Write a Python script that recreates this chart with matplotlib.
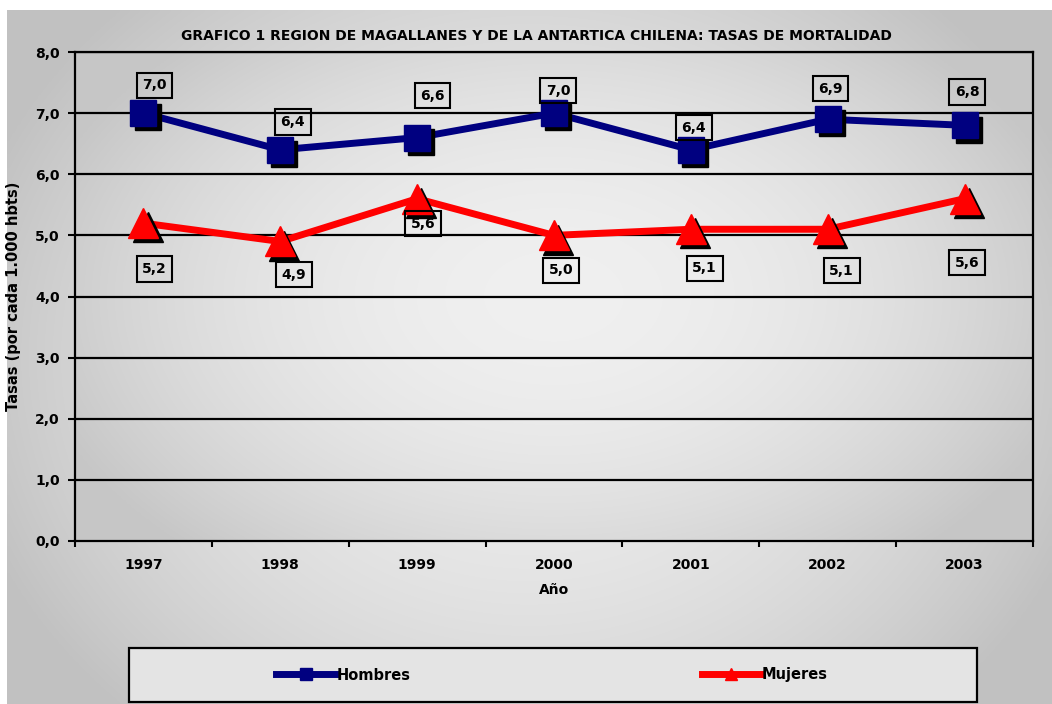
import matplotlib.pyplot as plt
import numpy as np
from matplotlib.patches import Rectangle
import matplotlib.transforms as mtransforms

# data
years = ['1997', '1998', '1999', '2000', '2001', '2002', '2003']
hombres = [7.0, 6.4, 6.6, 7.0, 6.4, 6.9, 6.8]
mujeres = [5.2, 4.9, 5.6, 5.0, 5.1, 5.1, 5.6]
y_ticks = [0, 1, 2, 3, 4, 5, 6, 7, 8]

# label offsets in points (layout only)
h_off = [(8, 20), (9, 20), (11, 30), (3, 16), (2, 16), (2, 22), (2, 24)]
m_off = [(8, -33), (10, -24), (4, -18), (5, -25), (10, -28), (10, -30), (2, -46)]

plt.rcParams['font.family'] = ['DejaVu Sans']
plt.rcParams['font.weight'] = 'bold'

fig = plt.figure(figsize=(10.52, 7.04), dpi=100)
fig.patch.set_facecolor('white')


def gradient(nx=200, ny=200, lo=0.76, hi=0.93):
    xx = np.linspace(-1, 1, nx)
    yy = np.linspace(-1, 1, ny)
    X, Y = np.meshgrid(xx, yy)
    r = np.clip(0.8 * X ** 2 + 0.5 * Y ** 2, 0, 1)
    v = hi - (hi - lo) * r
    return np.dstack([v, v, v])


# figure background (gray, leaving thin white strip top/left)
bg = fig.add_axes([7 / 1052, 0, 1 - 7 / 1052, 1 - 10 / 704], zorder=-10)
bg.imshow(gradient(), aspect='auto', extent=(0, 1, 0, 1), interpolation='bilinear')
bg.axis('off')

ax = fig.add_axes([75 / 1052, 1 - 541 / 704, (1033 - 75) / 1052, (541 - 52) / 704])
ax.set_facecolor('none')
ax.imshow(gradient(lo=0.78, hi=0.94), aspect='auto', extent=(-0.5, 6.5, 0, 8),
          interpolation='bilinear', zorder=0)

x = np.arange(len(years))
ax.set_xlim(-0.5, 6.5)
ax.set_ylim(0, 8)

for t in y_ticks[1:]:
    ax.axhline(t, color='black', lw=1.6, zorder=1)

shadow = mtransforms.offset_copy(ax.transData, fig=fig, x=3, y=-3, units='points')

ax.plot(x, hombres, color='#000080', lw=5, zorder=3)
ax.plot(x, hombres, 's', color='black', ms=19, transform=shadow, zorder=3.5)
ax.plot(x, hombres, 's', color='#000080', ms=19, zorder=4)

ax.plot(x, mujeres, color='#ff0000', lw=5, zorder=3)
ax.plot(x, mujeres, '^', color='black', ms=21, transform=shadow, zorder=3.5)
ax.plot(x, mujeres, '^', color='#ff0000', ms=21, zorder=4)

box = dict(boxstyle='square,pad=0.4', fc='none', ec='black', lw=1.5)
for i in range(len(years)):
    ax.annotate(f'{hombres[i]:.1f}'.replace('.', ','), (x[i], hombres[i]),
                xytext=h_off[i], textcoords='offset points', ha='center', va='center',
                fontsize=10, fontweight='bold', bbox=box, zorder=5)
    ax.annotate(f'{mujeres[i]:.1f}'.replace('.', ','), (x[i], mujeres[i]),
                xytext=m_off[i], textcoords='offset points', ha='center', va='center',
                fontsize=10, fontweight='bold', bbox=box, zorder=5)

ax.set_yticks(y_ticks)
ax.set_yticklabels([f'{t:.1f}'.replace('.', ',') for t in y_ticks], fontsize=10, fontweight='bold')
ax.set_xticks(x)
ax.set_xticklabels(years, fontsize=10, fontweight='bold')
ax.set_xticks(np.arange(-0.5, 7, 1), minor=True)
ax.tick_params(axis='x', which='major', length=0, pad=12)
ax.tick_params(axis='x', which='minor', length=4, width=1.5, direction='out')
ax.tick_params(axis='y', length=5, width=1.5, direction='out', pad=6)
for s in ax.spines.values():
    s.set_linewidth(1.6)
    s.set_color('black')

ax.set_xlabel('Año', fontsize=10, fontweight='bold', labelpad=8)
ax.set_ylabel('Tasas (por cada 1.000 hbts)', fontsize=10.5, fontweight='bold', labelpad=10)
fig.text(536 / 1052, 1 - 36 / 704,
         'GRAFICO 1 REGION DE MAGALLANES Y DE LA ANTARTICA CHILENA: TASAS DE MORTALIDAD',
         ha='center', va='center', fontsize=10, fontweight='bold')

# legend box
fig.patches.append(Rectangle((129 / 1052, 2 / 704), (977 - 129) / 1052, (702 - 648) / 704,
                             transform=fig.transFigure, fc='#e4e4e4', ec='black', lw=1.6,
                             zorder=1))
h1, = ax.plot([], [], color='#000080', lw=5, marker='s', ms=8)
h2, = ax.plot([], [], color='#ff0000', lw=5, marker='^', ms=8)
leg = fig.legend([h1, h2], ['Hombres', 'Mujeres'], loc='center',
                 bbox_to_anchor=(552 / 1052, 1 - 675 / 704), ncol=2, frameon=False,
                 handlelength=4, handletextpad=0.1, columnspacing=20,
                 prop={'size': 10.5, 'weight': 'bold'})
leg.set_zorder(2)

fig.savefig('out.png', dpi=100)
